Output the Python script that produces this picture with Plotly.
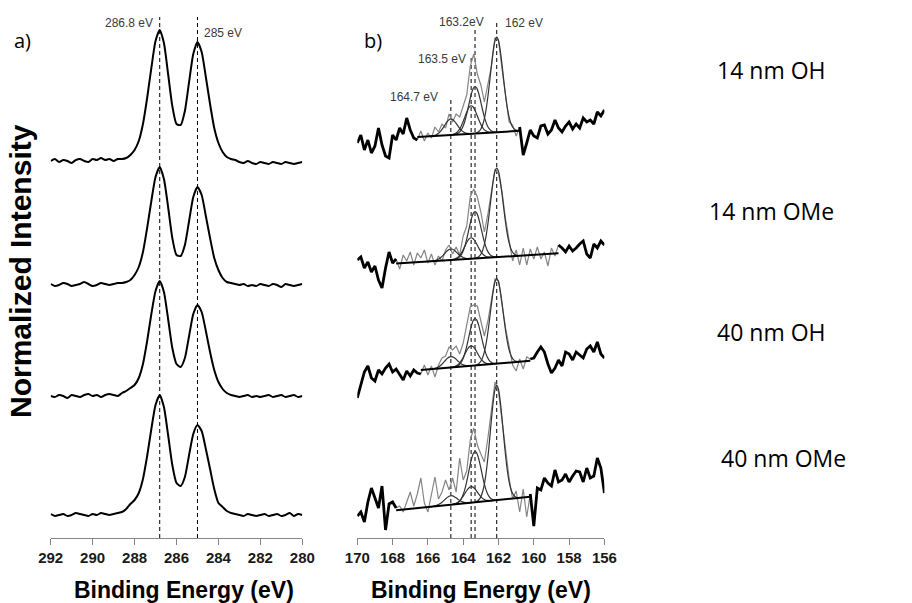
import numpy as np
import plotly.graph_objects as go

# ---------------- data ----------------
SAMPLES = ["14 nm OH", "14 nm OMe", "40 nm OH", "40 nm OMe"]

# C 1s panel (a): binding energy grid 292 -> 280 eV, step 0.2 eV
C1S_ENERGY = np.round(np.arange(292.0, 279.9, -0.2), 1)
C1S_TICKS = [292, 290, 288, 286, 284, 282, 280]
C1S_PEAKS = [286.8, 285.0]
C1S_OFFSETS = [377, 253, 142, 23]

C1S_14OH = [0, 2, -1, 1, 0, -2, 1, 2, 0, -1, 2, 1, 3, 1, 2, 0, 2,
            2, 3, 6, 11, 20, 37, 63, 93, 120, 131, 118, 87, 55, 37, 36, 50, 79, 107, 119, 109, 84, 57, 33, 18, 9, 4, 2, 1,
            -1, -2, 0, -2, -3, -1, -2, -3, -1, -2, -3, -1, -2, -3, -2, -1]
C1S_14OME = [1, -1, 0, 2, 1, -1, 0, 1, 3, 1, -1, 0, 2, 1, 0, 1, 2,
             2, 3, 5, 10, 18, 33, 57, 84, 108, 118, 106, 78, 47, 30, 29, 40, 64, 88, 98, 90, 69, 47, 27, 15, 7, 3, 2, 1,
             0, 1, -1, 0, -1, 1, 0, -1, 1, 0, -2, 1, 0, -1, 0, 1]
C1S_40OH = [0, -1, 1, 0, -2, 1, 0, -1, 1, 2, 0, 1, -1, 1, 2, 1, 0,
            3, 5, 8, 11, 18, 32, 55, 82, 105, 115, 104, 77, 48, 32, 29, 38, 60, 82, 91, 84, 65, 44, 26, 14, 7, 3, 1, 0,
            -1, 0, 1, -1, 0, -1, 0, 1, -1, 0, 1, -1, 0, 1, -1, 0]
C1S_40OME = [1, -1, 0, 1, -1, 0, 2, 1, 0, -1, 1, 0, 2, 1, 0, 1, 2,
             3, 6, 11, 15, 22, 36, 59, 86, 110, 120, 108, 80, 50, 32, 29, 38, 60, 81, 90, 84, 66, 46, 26, 12, 8, 4, 2, 1,
             0, -1, 1, 0, -1, 0, 1, -1, 0, 1, -1, 0, 2, -1, 1, 0]

# S 2p panel (b): binding energy grid 170 -> 156 eV, step 0.2 eV
S2P_ENERGY = np.round(np.arange(170.0, 155.9, -0.2), 1)
S2P_TICKS = [170, 168, 166, 164, 162, 160, 158, 156]
S2P_PEAKS = [164.7, 163.55, 163.33, 162.1]
S2P_PEAK_TOPS = [441, 480, 511, 518]

S2P_14OH = [395, 403, 388, 398, 385, 392, 410, 393, 382, 380, 403, 398, 410, 404, 420, 408, 400,
            398, 407, 397, 405, 400, 411, 406, 414, 410, 424, 416, 424, 421, 432, 443, 472, 484, 464, 453, 436,
            453, 472, 500, 498, 469, 445, 416, 413, 402, 411,
            383, 395, 408, 402, 400, 412, 413, 404, 408, 418, 410, 406, 412, 416, 409, 414, 410, 420, 416, 418,
            414, 426, 422, 428]
S2P_14OME = [278, 281, 270, 276, 266, 272, 258, 250, 270, 286, 275,
             279, 269, 283, 277, 286, 273, 285, 280, 288, 275, 284, 273, 282, 277, 288, 293, 284, 291, 283, 302,
             312, 341, 349, 341, 326, 306, 324, 349, 369, 364, 346, 319, 298, 277, 288, 273, 290, 273, 289, 279,
             291, 279, 286, 272, 290, 282, 293,
             290, 286, 292, 287, 290, 294, 297, 284, 280, 294, 290, 297, 293]
S2P_40OH = [140, 152, 166, 172, 160, 157, 168, 164, 170, 174, 166, 169, 163, 158, 167, 162, 168, 165,
            164, 173, 163, 172, 161, 173, 180, 182, 191, 188, 192, 184, 195, 212, 231, 233, 232, 217, 202, 217,
            239, 259, 257, 232, 210, 192, 173, 167, 179, 169, 181, 179,
            180, 186, 191, 186, 174, 165, 170, 178, 172, 186, 184, 178, 186, 183, 180, 189, 192, 186, 196, 184, 180]
S2P_40OME = [22, 26, 16, 36, 50, 40, 30, 52, 8, 34, 36,
             30, 32, 26, 37, 46, 32, 44, 60, 35, 26, 43, 61, 39, 46, 58, 48, 60, 46, 80, 58, 67, 98, 110, 93, 84,
             76, 100, 129, 156, 146, 118, 85, 60, 39, 47, 26, 49, 21, 44,
             12, 50, 48, 60, 55, 52, 68, 56, 58, 64, 56, 62, 67, 66, 56, 70, 60, 62, 80, 70, 45]

# fitted region (low, high eV) and linear background (value at high end, value at low end)
S2P_FIT_RANGE = [(160.8, 166.6), (158.6, 167.8), (160.2, 166.4), (160.2, 167.8)]
S2P_BACKGROUND = [(401.0, 407.2), (274.6, 284.7), (167.9, 177.2), (27.8, 41.2)]

# fitted components: centres and heights per sample
S2P_COMP_CENTERS = [162.1, 163.33, 163.55, 164.7]
S2P_COMP_HEIGHTS = [[95, 47, 28, 16], [89, 47, 21, 11], [85, 47, 20, 11], [115, 51, 16, 9]]
COMP_OFFSETS = [-1.2, -1.1, -1.0, -0.9, -0.8, -0.7, -0.6, -0.5, -0.4, -0.3, -0.2, -0.1, 0.0,
                0.1, 0.2, 0.3, 0.4, 0.5, 0.6, 0.7, 0.8, 0.9, 1.0, 1.1, 1.2]
COMP_PROFILE = [0.004, 0.009, 0.021, 0.044, 0.085, 0.151, 0.249, 0.381, 0.539, 0.707, 0.857, 0.962, 1.0,
                0.962, 0.857, 0.707, 0.539, 0.381, 0.249, 0.151, 0.085, 0.044, 0.021, 0.009, 0.004]

C1S_LABELS = [("286.8 eV", 287.03, 515, "right"), ("285 eV", 284.78, 505, "left")]
S2P_LABELS = [("163.2eV", 164.12, 516, "center"), ("162 eV", 161.75, 515, "left"),
              ("163.5 eV", 163.73, 479, "right"), ("164.7 eV", 165.31, 441, "right")]
C1S_DASH_TOP = 521

# ---------------- figure ----------------
fig = go.Figure()
FONT = "Liberation Sans, Arial, sans-serif"

for vals, off in zip([C1S_14OH, C1S_14OME, C1S_40OH, C1S_40OME], C1S_OFFSETS):
    fig.add_trace(go.Scatter(x=C1S_ENERGY, y=np.array(vals) + off, mode="lines", xaxis="x", yaxis="y",
                             line=dict(color="black", width=2, shape="spline", smoothing=0.6),
                             hoverinfo="skip"))

for pk in C1S_PEAKS:
    fig.add_trace(go.Scatter(x=[pk, pk], y=[0, C1S_DASH_TOP], mode="lines", xaxis="x", yaxis="y",
                             line=dict(color="black", width=1, dash="4px,3px"), hoverinfo="skip"))

for pk, top in zip(S2P_PEAKS, S2P_PEAK_TOPS):
    fig.add_trace(go.Scatter(x=[pk, pk], y=[0, top], mode="lines", xaxis="x2", yaxis="y2",
                             line=dict(color="black", width=1, dash="4px,3px"), hoverinfo="skip"))

for vals, (lo, hi), (bg_hi, bg_lo), heights in zip([S2P_14OH, S2P_14OME, S2P_40OH, S2P_40OME],
                                                   S2P_FIT_RANGE, S2P_BACKGROUND, S2P_COMP_HEIGHTS):
    vals = np.array(vals, dtype=float)
    outside = [v if (e >= hi - 1e-6 or e <= lo + 1e-6) else None for e, v in zip(S2P_ENERGY, vals)]
    inside = [v if (lo - 1e-6 <= e <= hi + 1e-6) else None for e, v in zip(S2P_ENERGY, vals)]
    fig.add_trace(go.Scatter(x=S2P_ENERGY, y=inside, mode="lines", xaxis="x2", yaxis="y2",
                             line=dict(color="#858585", width=1.2), hoverinfo="skip"))
    for c, h in zip(S2P_COMP_CENTERS, heights):
        cx = np.array(COMP_OFFSETS) + c
        base = np.interp(cx, [lo, hi], [bg_lo, bg_hi])
        fig.add_trace(go.Scatter(x=cx, y=base + h * np.array(COMP_PROFILE), mode="lines",
                                 xaxis="x2", yaxis="y2",
                                 line=dict(color="#333333", width=1.2, shape="spline", smoothing=0.8),
                                 hoverinfo="skip"))
    fig.add_trace(go.Scatter(x=S2P_ENERGY, y=outside, mode="lines", xaxis="x2", yaxis="y2",
                             line=dict(color="black", width=2.8), hoverinfo="skip"))
    fig.add_trace(go.Scatter(x=[hi, lo], y=[bg_hi, bg_lo], mode="lines", xaxis="x2", yaxis="y2",
                             line=dict(color="black", width=2), hoverinfo="skip"))

annotations = []
for txt, x, y, anc in C1S_LABELS:
    annotations.append(dict(text=txt, x=x, y=y, xref="x", yref="y", xanchor=anc, yanchor="middle",
                            showarrow=False, font=dict(family=FONT, size=12, color="#3a3a3a")))
for txt, x, y, anc in S2P_LABELS:
    annotations.append(dict(text=txt, x=x, y=y, xref="x2", yref="y2", xanchor=anc, yanchor="middle",
                            showarrow=False, font=dict(family=FONT, size=12, color="#3a3a3a")))

W, H = 912, 603
def px(x, y):
    return x / W, 1 - y / H

for txt, (xx, yy) in zip(SAMPLES, [(771, 70), (771, 211), (771, 332), (783, 458)]):
    ax_, ay_ = px(xx, yy)
    annotations.append(dict(text=txt, x=ax_, y=ay_, xref="paper", yref="paper", showarrow=False,
                            xanchor="center", yanchor="middle",
                            font=dict(family="Open Sans, sans-serif", size=23, color="black")))
for txt, (xx, yy) in zip(["a)", "b)"], [(22, 40), (373, 40)]):
    ax_, ay_ = px(xx, yy)
    annotations.append(dict(text=txt, x=ax_, y=ay_, xref="paper", yref="paper", showarrow=False,
                            xanchor="center", yanchor="middle",
                            font=dict(family="Open Sans, sans-serif", size=20, color="black")))
for (xx, yy) in [(184, 590), (481, 590)]:
    ax_, ay_ = px(xx, yy)
    annotations.append(dict(text="Binding Energy (eV)", x=ax_, y=ay_, xref="paper", yref="paper",
                            showarrow=False, xanchor="center", yanchor="middle",
                            font=dict(family=FONT, size=23, color="black", weight="bold")))
ax_, ay_ = px(20, 271)
annotations.append(dict(text="Normalized Intensity", x=ax_, y=ay_, xref="paper", yref="paper",
                        showarrow=False, xanchor="center", yanchor="middle", textangle=-90,
                        font=dict(family=FONT, size=30, color="black", weight="bold")))

axis_common = dict(ticks="outside", ticklen=6, tickcolor="#868686", tickwidth=1, showline=True,
                   linecolor="#868686", linewidth=1, showgrid=False, zeroline=False, automargin=False,
                   tickfont=dict(family=FONT, size=15, color="#1a1a1a", weight="bold"))

fig.update_layout(
    width=W, height=H, margin=dict(l=0, r=0, t=0, b=0, pad=0, autoexpand=False),
    plot_bgcolor="white", paper_bgcolor="white", showlegend=False,
    xaxis=dict(domain=[50.7 / W, 302.3 / W], range=[292, 280], tickvals=C1S_TICKS, anchor="y", **axis_common),
    yaxis=dict(domain=[(H - 538) / H, 1], range=[0, 538], visible=False, anchor="x", automargin=False),
    xaxis2=dict(domain=[357.3 / W, 604.4 / W], range=[170, 156], tickvals=S2P_TICKS, anchor="y2", **axis_common),
    yaxis2=dict(domain=[(H - 538) / H, 1], range=[0, 538], visible=False, anchor="x2", automargin=False),
    annotations=annotations,
)

fig.write_html("out.html", config={"displayModeBar": False},
               post_script="document.body.style.margin='0px';document.body.style.padding='0px';"
                           "document.body.style.overflow='hidden';"
                           "document.documentElement.style.overflow='hidden';")
